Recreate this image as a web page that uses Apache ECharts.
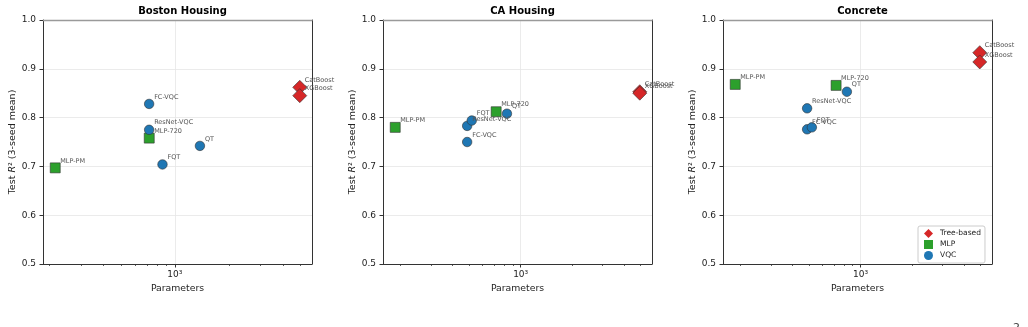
<!DOCTYPE html>
<html>
<head>
<meta charset="utf-8">
<script src="https://cdn.jsdelivr.net/npm/echarts@6/dist/echarts.min.js"></script>
<style>
  html, body { margin: 0; padding: 0; background: #fff; }
  #chart { width: 1028px; height: 327px; }
</style>
</head>
<body>
<div id="chart"></div>
<script>
// data
const datasets = ['Boston Housing', 'CA Housing', 'Concrete'];
const treeNames = ['CatBoost', 'XGBoost'];
const treeParams = [[4950, 4950], [4940, 4940], [4950, 4950]];
const treeR2 = [[0.862, 0.845], [0.853, 0.850], [0.933, 0.914]];
const mlpNames = ['MLP-PM', 'MLP-720'];
const mlpParams = [[216, 720], [186, 720], [186, 720]];
const mlpR2 = [[0.697, 0.758], [0.780, 0.812], [0.868, 0.866]];
const vqcNames = ['FC-VQC', 'ResNet-VQC', 'FQT', 'QT'];
const vqcParams = [[719, 719, 853, 1378], [488, 488, 519, 832], [488, 488, 520, 832]];
const vqcR2 = [[0.828, 0.775, 0.704, 0.742], [0.750, 0.783, 0.794, 0.808], [0.776, 0.819, 0.780, 0.853]];
const majorX = [1000];
const minorX = [200, 300, 400, 500, 600, 700, 800, 900, 2000, 3000, 4000, 5000];

const FONT = 'DejaVu Sans';
const groups = [
  { name: 'Tree-based', names: treeNames, xs: treeParams, ys: treeR2, color: '#d62728', symbol: 'diamond', size: 14 },
  { name: 'MLP', names: mlpNames, xs: mlpParams, ys: mlpR2, color: '#2ca02c', symbol: 'rect', size: 10 },
  { name: 'VQC', names: vqcNames, xs: vqcParams, ys: vqcR2, color: '#1f77b4', symbol: 'circle', size: 9.5 },
];
const lefts = [43, 383, 723];
const W = 269, TOP = 20, H = 244;

// matplotlib-like 5% margin in log space
function logRange(i) {
  const all = [].concat(treeParams[i], mlpParams[i], vqcParams[i]);
  const lo = Math.log10(Math.min(...all)), hi = Math.log10(Math.max(...all));
  const pad = (hi - lo) * 0.05;
  return [Math.pow(10, lo - pad), Math.pow(10, hi + pad)];
}

const grid = [], xAxis = [], yAxis = [], title = [], series = [];
datasets.forEach((ds, i) => {
  const [xmin, xmax] = logRange(i);
  grid.push({ left: lefts[i], top: TOP, width: W, height: H });
  grid.push({ left: lefts[i], top: TOP, width: W, height: H });
  title.push({
    text: ds, left: lefts[i] + W / 2, top: 1, textAlign: 'center',
    textStyle: { fontFamily: FONT, fontSize: 10, fontWeight: 'bold', color: '#000' },
  });
  // main x axis
  xAxis.push({
    type: 'log', logBase: 10, gridIndex: 2 * i, position: 'bottom', min: xmin, max: xmax,
    name: 'Parameters', nameLocation: 'middle', nameGap: 20,
    nameTextStyle: { fontFamily: FONT, fontSize: 9.3, color: '#222' },
    axisLine: { lineStyle: { color: '#333', width: 1 } },
    axisTick: { show: true, length: 3.5, customValues: majorX, lineStyle: { color: '#333' } },
    axisLabel: { customValues: majorX, margin: 6, fontFamily: FONT, fontSize: 9, color: '#222', formatter: () => '10³' },
    splitLine: { show: true, lineStyle: { color: '#e6e6e6', width: 0.8 } },
  });
  // minor ticks
  xAxis.push({
    type: 'log', logBase: 10, gridIndex: 2 * i + 1, position: 'bottom', min: xmin, max: xmax,
    axisLine: { show: false },
    axisTick: { show: true, length: 2, customValues: minorX, lineStyle: { color: '#333', width: 0.8 } },
    axisLabel: { show: false },
    splitLine: { show: false },
  });
  // top spine
  xAxis.push({
    type: 'log', logBase: 10, gridIndex: 2 * i + 1, position: 'top', min: xmin, max: xmax,
    axisLine: { lineStyle: { color: '#9a9a9a', width: 1.3 } },
    axisTick: { show: false }, axisLabel: { show: false }, splitLine: { show: false },
  });
  yAxis.push({
    type: 'value', gridIndex: 2 * i, position: 'left', min: 0.5, max: 1.0, interval: 0.1,
    name: 'Test {it|R}² (3-seed mean)', nameLocation: 'middle', nameGap: 25,
    nameTextStyle: { fontFamily: FONT, fontSize: 9.5, color: '#222', rich: { it: { fontFamily: FONT, fontSize: 9.5, fontStyle: 'italic', color: '#222' } } },
    axisLine: { show: true, lineStyle: { color: '#333', width: 1 } },
    axisTick: { show: true, length: 3.5, lineStyle: { color: '#333' } },
    axisLabel: { margin: 7, fontFamily: FONT, fontSize: 9, color: '#222', formatter: v => v.toFixed(1) },
    splitLine: { show: true, lineStyle: { color: '#e6e6e6', width: 0.8 } },
  });
  yAxis.push({
    type: 'value', gridIndex: 2 * i, position: 'right', min: 0.5, max: 1.0, interval: 0.1,
    axisLine: { show: true, lineStyle: { color: '#333', width: 1 } },
    axisTick: { show: false }, axisLabel: { show: false }, splitLine: { show: false },
  });
  yAxis.push({ type: 'value', gridIndex: 2 * i + 1, min: 0.5, max: 1.0, show: false });

  groups.forEach(g => {
    series.push({
      type: 'scatter', name: g.name, xAxisIndex: 3 * i, yAxisIndex: 3 * i,
      symbol: g.symbol, symbolSize: g.size,
      itemStyle: { color: g.color, opacity: 1, borderColor: '#333', borderWidth: 0.6 },
      data: g.names.map((n, k) => [g.xs[i][k], g.ys[i][k], n]),
      label: {
        show: true, position: 'inside', align: 'left', verticalAlign: 'middle', offset: [5, -7],
        formatter: p => p.value[2], fontFamily: FONT, fontSize: 6.5, color: '#555',
      },
      silent: true,
    });
  });
});

const chart = echarts.init(document.getElementById('chart'), null, { renderer: 'canvas' });
chart.setOption({
  animation: false,
  backgroundColor: '#fff',
  title, grid, xAxis, yAxis, series,
  legend: {
    orient: 'vertical', left: 918, top: 226,
    data: [{ name: 'Tree-based', icon: 'diamond' }, { name: 'MLP', icon: 'rect' }, { name: 'VQC', icon: 'circle' }],
    itemWidth: 9, itemHeight: 9, itemGap: 2,
    itemStyle: { borderWidth: 0, opacity: 1 },
    padding: [3, 4, 3, 6],
    borderColor: '#cccccc', borderWidth: 1, borderRadius: 2, backgroundColor: '#fff',
    textStyle: { fontFamily: FONT, fontSize: 7.5, color: '#222', padding: [0, 0, 0, 2] },
    selectedMode: false,
  },
  graphic: [{ type: 'text', left: 1013, top: 323, style: { text: '2', fontFamily: FONT, fontSize: 11, fill: '#444' } }],
});
</script>
</body>
</html>
